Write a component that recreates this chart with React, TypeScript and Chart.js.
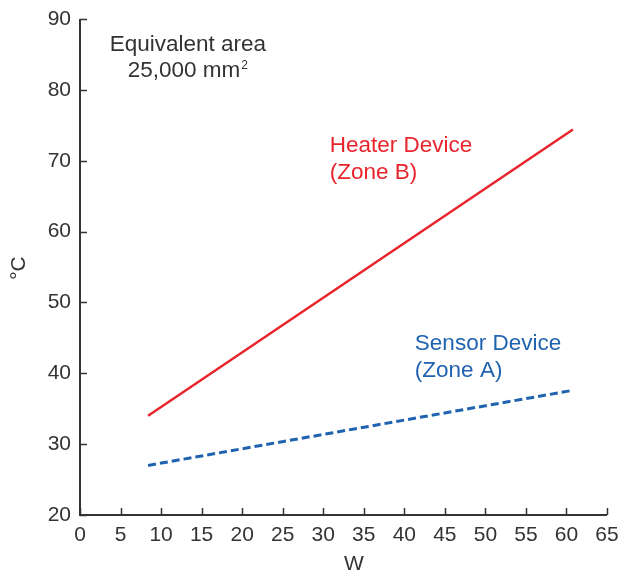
import React, { useEffect, useRef } from "react";
import { Chart, registerables } from "chart.js";

Chart.register(...registerables);

const heaterW = [8.4, 60.8];
const heaterC = [34.0, 74.4];
const sensorW = [8.4, 60.8];
const sensorC = [27.0, 37.6];

const xTickMin = 0;
const xTickMax = 65;
const xTickStep = 5;
const yTickMin = 20;
const yTickMax = 90;
const yTickStep = 10;

const xTitle = "W";
const yTitle = "°C";

const heaterLabel = ["Heater Device", "(Zone B)"];
const sensorLabel = ["Sensor Device", "(Zone A)"];
const noteLines = ["Equivalent area", "25,000 mm", "2"];

const RED = "#e8242c";
const BLUE = "#1f63b0";
const INK = "#333333";
const FONT = "'Liberation Sans', Arial, sans-serif";
const TICK_SIZE = 21;
const TEXT_SIZE = 22.5;

const axisPlugin = {
  id: "axisPlugin",
  afterDraw(chart: any) {
    const { ctx, chartArea, scales } = chart;
    const xs = scales.x;
    const ys = scales.y;
    ctx.save();
    ctx.strokeStyle = INK;
    ctx.lineWidth = 2;
    ctx.beginPath();
    ctx.moveTo(chartArea.left, chartArea.top);
    ctx.lineTo(chartArea.left, chartArea.bottom);
    ctx.lineTo(chartArea.right, chartArea.bottom);
    ctx.stroke();
    ctx.lineWidth = 1.5;
    ctx.beginPath();
    for (let v = xTickMin; v <= xTickMax; v += xTickStep) {
      const px = Math.round(xs.getPixelForValue(v)) + 0.5;
      ctx.moveTo(px, chartArea.bottom);
      ctx.lineTo(px, chartArea.bottom - 7);
    }
    for (let v = yTickMin; v <= yTickMax; v += yTickStep) {
      const py = Math.round(ys.getPixelForValue(v)) + 0.5;
      ctx.moveTo(chartArea.left, py);
      ctx.lineTo(chartArea.left + 7, py);
    }
    ctx.stroke();

    ctx.fillStyle = INK;
    ctx.font = `${TICK_SIZE}px ${FONT}`;
    ctx.textAlign = "center";
    ctx.textBaseline = "middle";
    ctx.fillText(xTitle, 354, 564);
    ctx.save();
    ctx.translate(19, 268);
    ctx.rotate(-Math.PI / 2);
    ctx.fillText(yTitle, 0, 0);
    ctx.restore();

    ctx.font = `${TEXT_SIZE}px ${FONT}`;
    ctx.textAlign = "left";
    ctx.fillStyle = RED;
    let x = xs.getPixelForValue(30.8);
    let y = ys.getPixelForValue(72.1);
    ctx.fillText(heaterLabel[0], x, y);
    ctx.fillText(heaterLabel[1], x, y + 27);

    ctx.fillStyle = BLUE;
    x = xs.getPixelForValue(41.3);
    y = ys.getPixelForValue(44.2);
    ctx.fillText(sensorLabel[0], x, y);
    ctx.fillText(sensorLabel[1], x, y + 27);

    ctx.fillStyle = INK;
    ctx.textAlign = "center";
    const cx = xs.getPixelForValue(13.3);
    const ny = ys.getPixelForValue(86.4);
    ctx.fillText(noteLines[0], cx, ny);
    ctx.textAlign = "left";
    const w1 = ctx.measureText(noteLines[1]).width;
    ctx.font = `12px ${FONT}`;
    const w2 = ctx.measureText(noteLines[2]).width;
    const startX = cx - (w1 + w2 + 1) / 2;
    ctx.font = `${TEXT_SIZE}px ${FONT}`;
    ctx.fillText(noteLines[1], startX, ny + 26);
    ctx.font = `12px ${FONT}`;
    ctx.fillText(noteLines[2], startX + w1 + 1, ny + 21);
    ctx.restore();
  },
};

export default function App() {
  const ref = useRef<HTMLCanvasElement | null>(null);
  useEffect(() => {
    if (!ref.current) return;
    const chart = new Chart(ref.current, {
      type: "line",
      data: {
        datasets: [
          {
            label: heaterLabel.join(" "),
            data: heaterW.map((w, i) => ({ x: w, y: heaterC[i] })),
            borderColor: RED,
            borderWidth: 2.5,
            pointRadius: 0,
            fill: false,
          },
          {
            label: sensorLabel.join(" "),
            data: sensorW.map((w, i) => ({ x: w, y: sensorC[i] })),
            borderColor: BLUE,
            borderWidth: 3,
            borderDash: [8, 4],
            pointRadius: 0,
            fill: false,
          },
        ],
      },
      options: {
        animation: false,
        responsive: false,
        maintainAspectRatio: false,
        layout: { padding: { top: 19, right: 15, left: 0, bottom: 0 } },
        plugins: {
          legend: { display: false },
          tooltip: { enabled: false },
        },
        scales: {
          x: {
            type: "linear",
            min: xTickMin,
            max: xTickMax,
            grid: { display: false, drawTicks: false },
            border: { display: false },
            ticks: {
              stepSize: xTickStep,
              color: INK,
              font: { family: FONT, size: TICK_SIZE },
              padding: 8,
              maxRotation: 0,
              autoSkip: false,
            },
            afterFit(scale: any) {
              scale.height = 62;
              scale.paddingLeft = 0;
              scale.paddingRight = 0;
            },
          },
          y: {
            type: "linear",
            min: yTickMin,
            max: yTickMax,
            grid: { display: false, drawTicks: false },
            border: { display: false },
            ticks: {
              stepSize: yTickStep,
              color: INK,
              font: { family: FONT, size: TICK_SIZE },
              padding: 9,
              autoSkip: false,
            },
            afterFit(scale: any) {
              scale.width = 80;
              scale.paddingTop = 0;
              scale.paddingBottom = 0;
            },
          },
        },
      },
      plugins: [axisPlugin],
    });
    return () => chart.destroy();
  }, []);
  return (
    <div style={{ position: "absolute", left: 0, top: 0, width: 622, height: 577, background: "#fff" }}>
      <canvas ref={ref} width={622} height={577} style={{ width: 622, height: 577 }} />
    </div>
  );
}
